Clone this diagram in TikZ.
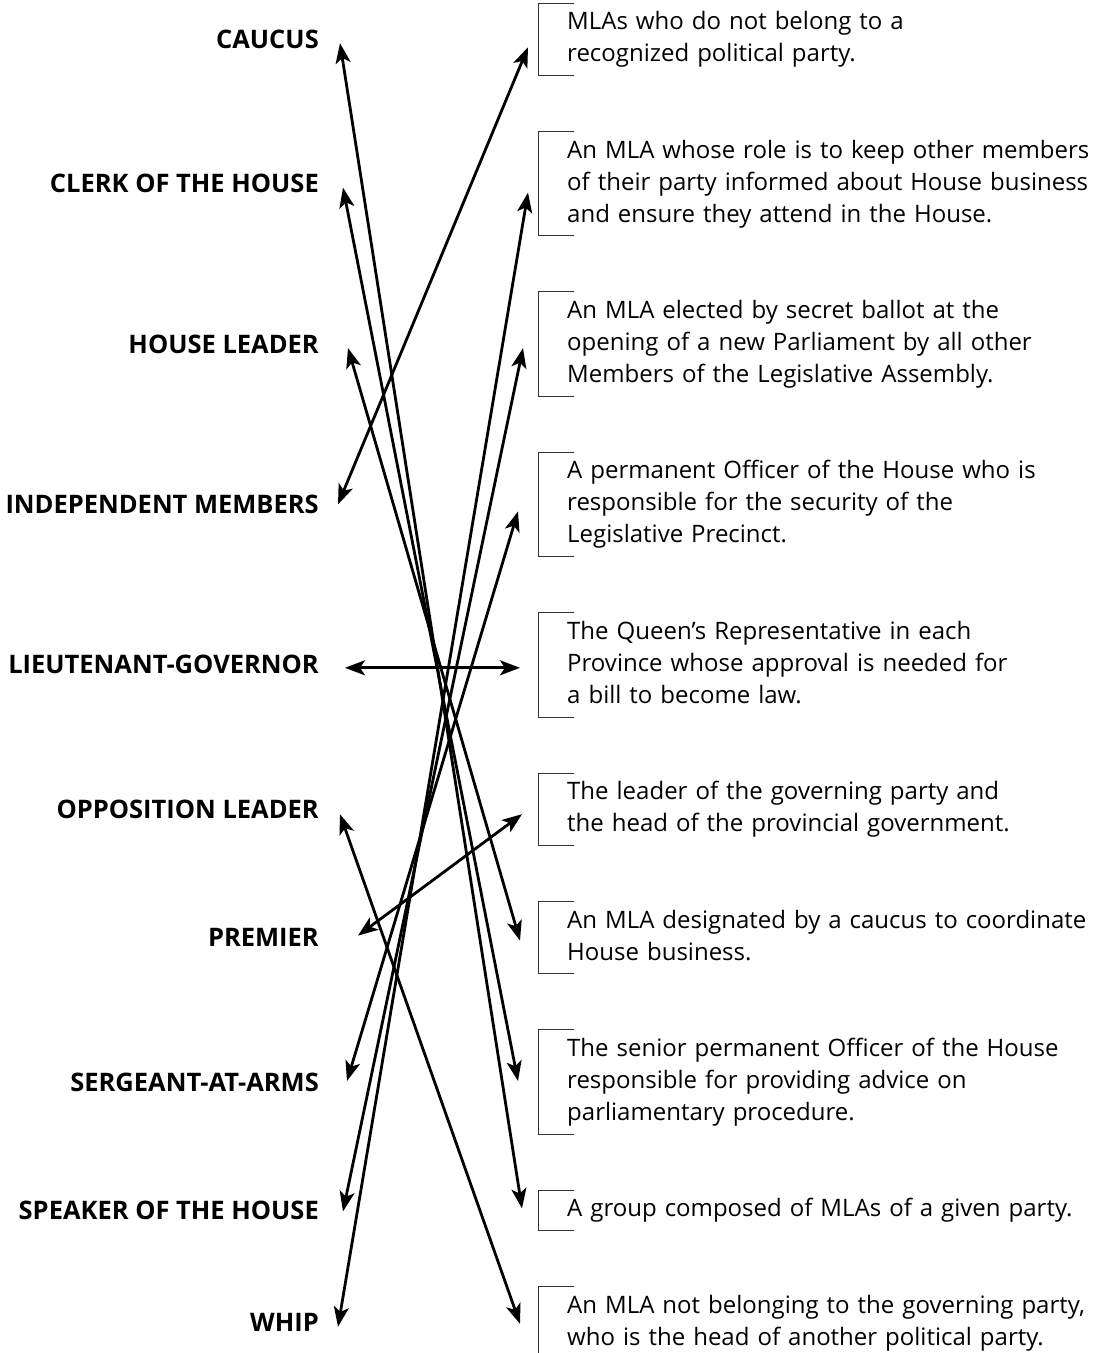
\documentclass[tikz,border=0pt]{standalone}
\usepackage{fontspec}
\setmainfont{Open Sans}
\usetikzlibrary{arrows.meta, positioning}

\begin{document}
\begin{tikzpicture}[
  x=1pt, y=-1pt,
  node distance=56pt,
  term/.style={anchor=east, inner sep=0pt, font=\fontsize{25.5}{30}\selectfont\bfseries},
  defn/.style={anchor=north west, align=left, text width=560pt, inner xsep=29pt, inner ysep=4pt,
    font=\fontsize{24}{32}\selectfont, execute at begin node=\strut, execute at end node=\strut},
  bracket/.style={draw=black!80, line width=1pt},
  link/.style={<->, line width=2.8pt},
  >={Stealth[length=20pt, width=15pt, inset=5pt]}
]
\useasboundingbox (0,0) rectangle (1100,1353);

% definitions, right column
\node[defn] (d1) at (538,3) {MLAs who do not belong to a\\recognized political party.};
\node[defn, below=of d1.south west, anchor=north west] (d2) {An MLA whose role is to keep other members\\of their party informed about House business\\and ensure they attend in the House.};
\node[defn, below=of d2.south west, anchor=north west] (d3) {An MLA elected by secret ballot at the\\opening of a new Parliament by all other\\Members of the Legislative Assembly.};
\node[defn, below=of d3.south west, anchor=north west] (d4) {A permanent Officer of the House who is\\responsible for the security of the\\Legislative Precinct.};
\node[defn, below=of d4.south west, anchor=north west] (d5) {The Queen's Representative in each\\Province whose approval is needed for\\a bill to become law.};
\node[defn, below=of d5.south west, anchor=north west] (d6) {The leader of the governing party and\\the head of the provincial government.};
\node[defn, below=of d6.south west, anchor=north west] (d7) {An MLA designated by a caucus to coordinate\\House business.};
\node[defn, below=of d7.south west, anchor=north west] (d8) {The senior permanent Officer of the House\\responsible for providing advice on\\parliamentary procedure.};
\node[defn, below=of d8.south west, anchor=north west] (d9) {A group composed of MLAs of a given party.};
\node[defn, below=of d9.south west, anchor=north west] (d10) {An MLA not belonging to the governing party,\\who is the head of another political party.};

\foreach \i in {1,...,10}
  \draw[bracket] ([xshift=36pt]d\i.north west) -| (d\i.south west) -- ++(36,0);

% terms, left column
\coordinate (edge) at (319,0);
\node[term] (caucus) at (d1.west -| edge) {CAUCUS};
\node[term] (clerk) at (d2.west -| edge) {CLERK OF THE HOUSE};
\node[term] (hleader) at (d3.west -| edge) {HOUSE LEADER};
\node[term] (indep) at (d4.west -| edge) {INDEPENDENT MEMBERS};
\node[term] (ltgov) at (d5.west -| edge) {LIEUTENANT-GOVERNOR};
\node[term] (oppleader) at (d6.west -| edge) {OPPOSITION LEADER};
\node[term] (premier) at (d7.west -| edge) {PREMIER};
\node[term] (sergeant) at (d8.west -| edge) {SERGEANT-AT-ARMS};
\node[term] (speaker) at (d9.west -| edge) {SPEAKER OF THE HOUSE};
\node[term] (whip) at (d10.west -| edge) {WHIP};

\draw[link] ([shift={(21,4)}]caucus.east) -- ([shift={(-16,-2)}]d9.west);
\draw[link] ([shift={(24,4)}]clerk.east) -- ([shift={(-20,-1)}]d8.west);
\draw[link] ([shift={(29,4)}]hleader.east) -- ([shift={(-18,3)}]d7.west);
\draw[link] ([shift={(19,0)}]indep.east) -- ([shift={(-10,8)}]d1.west);
\draw[link] ([shift={(26,3)}]ltgov.east) -- ([shift={(-18,3)}]d5.west);
\draw[link] ([shift={(21,5)}]oppleader.east) -- ([shift={(-18,1)}]d10.west);
\draw[link] ([shift={(39,-2)}]premier.east) -- ([shift={(-16,5)}]d6.west);
\draw[link] ([shift={(28,-1)}]sergeant.east) -- ([shift={(-20,7)}]d4.west);
\draw[link] ([shift={(24,1)}]speaker.east) -- ([shift={(-15,4)}]d3.west);
\draw[link] ([shift={(19,4)}]whip.east) -- ([shift={(-10,9)}]d2.west);
\end{tikzpicture}
\end{document}
